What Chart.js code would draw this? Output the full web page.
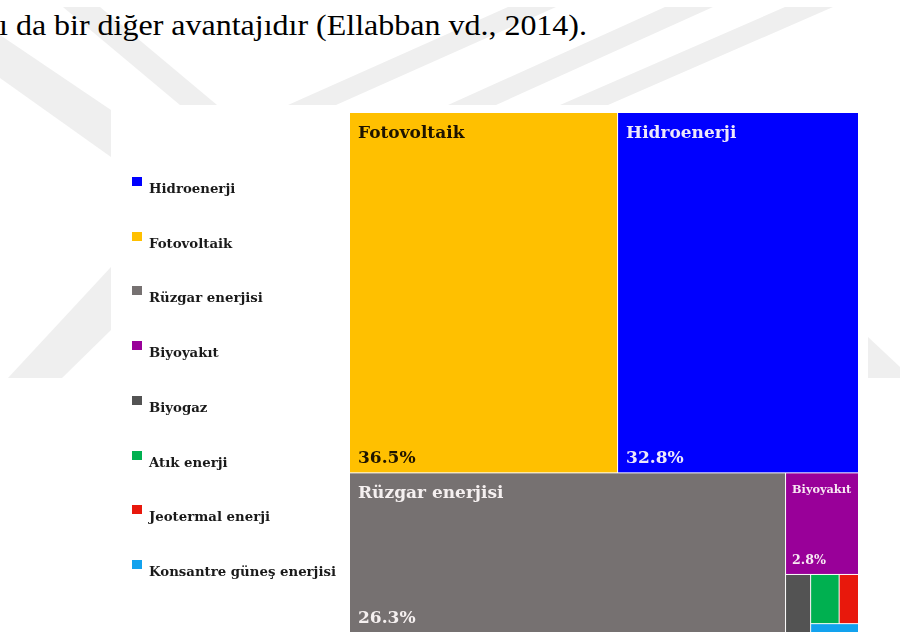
<!DOCTYPE html>
<html lang="tr">
<head>
<meta charset="utf-8">
<title>Yenilenebilir enerji kaynakları</title>
<script src="https://cdn.jsdelivr.net/npm/chart.js@4.4.1/dist/chart.umd.min.js"></script>
<style>
  html, body { margin: 0; padding: 0; width: 900px; height: 632px; overflow: hidden; background: #fff; }
  #page { position: relative; width: 900px; height: 632px; overflow: hidden; }
  #wm { position: absolute; left: 0; top: 0; }
  #box { position: absolute; left: 111px; top: 105px; width: 757px; height: 540px; background: #fff; }
  #lead { position: absolute; left: -1px; top: 10px; font-family: "Times New Roman", "Liberation Serif", Tinos, serif;
          font-size: 30px; line-height: 30px; color: #000; white-space: nowrap; transform-origin: 0 0; }
  #chart { position: absolute; left: 0; top: 0; }
</style>
</head>
<body>
<div id="page">
  <svg id="wm" width="900" height="632" viewBox="0 0 900 632">
    <g fill="#efefef">
      <polygon points="63,7 100,7 217,105 180,105"/>
      <polygon points="508,7 556,7 336,105 288,105"/>
      <polygon points="665,7 713,7 496,105 448,105"/>
      <polygon points="785,7 833,7 608,105 560,105"/>
      <polygon points="0,35 0,78 111,157 111,110"/>
      <polygon points="111,267 111,330 62,378 8,378"/>
      <polygon points="868,337 900,367 900,378 868,378"/>
    </g>
  </svg>
  <div id="box"></div>
  <div id="lead">ı da bir diğer avantajıdır (Ellabban vd., 2014).</div>
  <canvas id="chart" width="900" height="640"></canvas>
</div>
<script>
// Shares of renewable energy sources (%)
const categories = ['Hidroenerji', 'Fotovoltaik', 'Rüzgar enerjisi', 'Biyoyakıt',
                    'Biyogaz', 'Atık enerji', 'Jeotermal enerji', 'Konsantre güneş enerjisi'];
const shares = [32.8, 36.5, 26.3, 2.8, 0.55, 0.53, 0.36, 0.16];
const colors = ['#0000FF', '#FFC000', '#767171', '#990099', '#535353', '#00B050', '#E8180C', '#12A2EE'];

// How many tiles go into each successive strip of the treemap
const stripSizes = [2, 1, 1, 1, 2, 1];

const FONT = '"DejaVu Serif", "Liberation Serif", serif';
const TILE_FONT = 17;
const LEGEND_FONT = 13.3;

// Strip layout: tiles sorted by size, each strip laid along the shorter side
// of the space that is still free. Works in data units (0..100 on both axes).
function layoutStrips(values, sizes, rect, widthPx, heightPx) {
  const order = values.map((v, i) => i).sort((a, b) => values[b] - values[a]);
  let remaining = values.reduce((s, v) => s + v, 0);
  const cells = [];
  let pos = 0;
  let r = Object.assign({}, rect);
  for (const n of sizes) {
    const group = order.slice(pos, pos + n);
    pos += n;
    const gsum = group.reduce((s, k) => s + values[k], 0);
    const frac = gsum / remaining;
    if (widthPx(r) <= heightPx(r)) {
      const cut = r.y0 + (r.y1 - r.y0) * frac;
      let cx = r.x0;
      for (const k of group) {
        const w = (r.x1 - r.x0) * values[k] / gsum;
        cells[k] = { x0: cx, x1: cx + w, y0: r.y0, y1: cut };
        cx += w;
      }
      r = { x0: r.x0, x1: r.x1, y0: cut, y1: r.y1 };
    } else {
      const cut = r.x0 + (r.x1 - r.x0) * frac;
      let cy = r.y0;
      for (const k of group) {
        const h = (r.y1 - r.y0) * values[k] / gsum;
        cells[k] = { x0: r.x0, x1: cut, y0: cy, y1: cy + h };
        cy += h;
      }
      r = { x0: cut, x1: r.x1, y0: r.y0, y1: r.y1 };
    }
    remaining -= gsum;
  }
  return cells;
}

function isLight(hex) {
  const n = parseInt(hex.slice(1), 16);
  const r = (n >> 16) & 255, g = (n >> 8) & 255, b = n & 255;
  return (0.299 * r + 0.587 * g + 0.114 * b) > 150;
}

const treemapPlugin = {
  id: 'treemapTiles',
  afterDatasetsDraw(chart) {
    const { ctx, scales } = chart;
    const xs = scales.x, ys = scales.y;
    const px = v => xs.getPixelForValue(v);
    const py = v => ys.getPixelForValue(v);
    const cells = layoutStrips(
      shares, stripSizes,
      { x0: xs.min, x1: xs.max, y0: ys.min, y1: ys.max },
      c => Math.abs(px(c.x1) - px(c.x0)),
      c => Math.abs(py(c.y1) - py(c.y0))
    );
    ctx.save();
    cells.forEach((c, i) => {
      const X0 = px(c.x0), X1 = px(c.x1), Y0 = py(c.y0), Y1 = py(c.y1);
      const w = X1 - X0, h = Y1 - Y0;
      ctx.fillStyle = colors[i];
      ctx.fillRect(X0, Y0, w - 1, h - 1);
      if (w < 50 || h < 50) return;
      // category name at the top, share at the bottom
      ctx.font = 'bold ' + TILE_FONT + 'px ' + FONT;
      const natural = ctx.measureText(categories[i]).width;
      const nameSize = Math.min(TILE_FONT, TILE_FONT * (w - 14) / natural);
      const pad = Math.max(6, nameSize * 0.47);
      const valSize = Math.min(TILE_FONT, nameSize * 1.12);
      ctx.fillStyle = isLight(colors[i]) ? '#1e1400' : 'rgba(255,250,250,0.93)';
      ctx.textBaseline = 'alphabetic';
      ctx.textAlign = 'left';
      ctx.font = 'bold ' + nameSize.toFixed(1) + 'px ' + FONT;
      ctx.fillText(categories[i], X0 + pad, Y0 + 8 + nameSize);
      ctx.font = 'bold ' + valSize.toFixed(1) + 'px ' + FONT;
      ctx.fillText(shares[i].toFixed(1) + '%', X0 + pad, Y1 - 10.5);
    });
    ctx.restore();
  },
  afterDraw(chart) {
    // legend column on the left
    const ctx = chart.ctx;
    ctx.save();
    ctx.textBaseline = 'alphabetic';
    ctx.textAlign = 'left';
    ctx.font = 'bold ' + LEGEND_FONT + 'px ' + FONT;
    categories.forEach((name, i) => {
      const base = 193 + i * 54.7;
      ctx.fillStyle = colors[i];
      ctx.fillRect(132, Math.round(base - 16), 10, 9);
      ctx.fillStyle = '#1a1a1a';
      ctx.fillText(name, 149, base);
    });
    ctx.restore();
  }
};

new Chart(document.getElementById('chart'), {
  type: 'scatter',
  data: { datasets: [{ data: [], pointRadius: 0 }] },
  options: {
    responsive: false,
    animation: false,
    events: [],
    layout: { padding: { left: 350, right: 41, top: 113, bottom: 7 } },
    scales: {
      x: { type: 'linear', min: 0, max: 100, display: false },
      y: { type: 'linear', min: 0, max: 100, reverse: true, display: false }
    },
    plugins: { legend: { display: false }, tooltip: { enabled: false } }
  },
  plugins: [treemapPlugin]
});

// stretch the running text line to its column width
(function () {
  const lead = document.getElementById('lead');
  const w = lead.getBoundingClientRect().width;
  lead.style.transform = 'scaleX(' + (588 / w).toFixed(4) + ')';
})();
</script>
</body>
</html>
